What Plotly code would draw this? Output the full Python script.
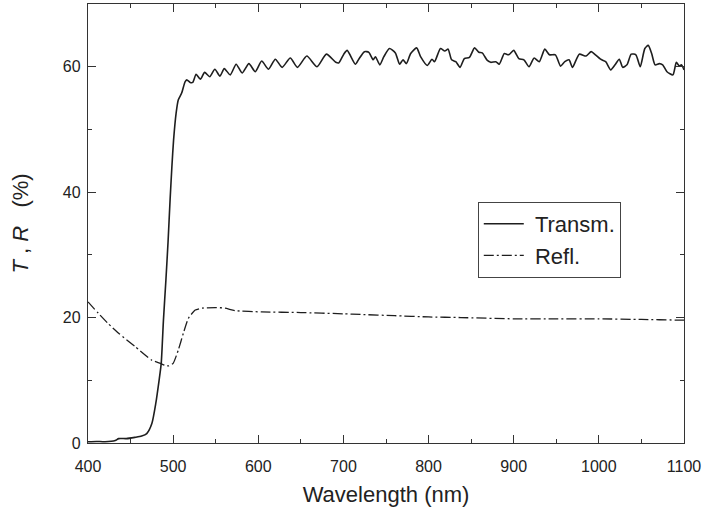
import plotly.graph_objects as go

# Transmission spectrum (wavelength in nm, T in %)
trans_wl = [400, 410, 420, 432, 436, 445, 455, 463, 469, 475, 479.6, 483.5, 486, 488.6,
            491.5, 494, 496.5, 498.5, 500.5, 503.5, 506, 510, 514, 516, 520,
            523, 527, 532, 537, 543, 549, 555, 560, 567, 574, 581, 589, 596.5, 604,
            612, 620, 628, 637.6, 646, 657, 669, 680, 691, 694.5, 700.4, 704.4, 714,
            718, 724.7, 729.8, 735, 737.6, 742.7, 747.5, 754, 761, 766, 770, 774, 779,
            786, 790.6, 798.4, 804, 807, 814, 819, 823, 827, 832, 837, 842, 848, 854,
            859, 863, 869, 873, 879, 883, 889, 894, 900, 906, 912, 918, 924, 930, 936.5,
            942, 949, 955, 960, 965, 969, 977, 985, 991, 996, 1002, 1008, 1014, 1019,
            1024, 1028, 1033, 1038, 1043.5, 1048.6, 1054, 1058, 1062, 1066, 1071, 1075,
            1080, 1087, 1091, 1094.5, 1097, 1100]
trans_val = [0.2, 0.25, 0.2, 0.4, 0.7, 0.7, 0.9, 1.1, 1.5, 3.1, 6.3, 10.0, 12.7, 19.6,
             26.0, 32.0, 39.0, 44.0, 48.3, 52.6, 54.7, 55.8, 57.6, 57.9, 57.5,
             57.5, 58.8, 58.0, 59.1, 58.4, 59.6, 58.5, 59.7, 58.7, 60.4, 59.0, 60.5, 59.2, 60.9,
             59.6, 61.2, 59.9, 61.4, 59.9, 61.7, 60.0, 62.0, 60.7, 60.6, 62.0, 62.6, 60.4,
             61.2, 62.4, 62.3, 61.1, 61.6, 60.3, 61.6, 62.9, 62.2, 60.4, 61.1, 60.5, 62.1,
             63.0, 61.6, 60.2, 61.2, 60.8, 62.9, 62.5, 62.8, 61.1, 60.8, 59.9, 61.3, 61.5, 63.0,
             62.3, 62.2, 61.0, 60.7, 60.8, 60.4, 62.1, 61.9, 62.6, 61.3, 61.1, 60.0, 61.4, 60.8, 62.8,
             61.9, 61.9, 60.1, 60.8, 61.1, 59.9, 62.0, 61.7, 62.4, 61.9, 61.2, 60.8, 59.5, 60.3,
             61.2, 59.9, 60.3, 62.0, 61.9, 60.0, 62.9, 63.4, 62.1, 60.3, 60.5, 60.3,
             59.2, 58.7, 60.7, 60.1, 60.3, 59.5]

# Reflection spectrum (wavelength in nm, R in %)
refl_wl = [400, 412, 424, 436, 455, 475, 485, 490, 495, 500, 506, 512, 518, 526, 534,
           550, 561, 573, 604, 650, 700, 720, 760, 800, 838, 900, 950, 1000, 1050, 1093, 1100]
refl_val = [22.5, 20.7, 19.0, 17.5, 15.4, 13.2, 12.7, 12.4, 12.3, 12.7, 14.8, 17.5, 19.9, 21.2, 21.5,
            21.6, 21.5, 21.1, 20.9, 20.8, 20.6, 20.5, 20.3, 20.1, 20.0, 19.8, 19.8, 19.8, 19.7, 19.6, 19.6]

x_ticks = [400, 500, 600, 700, 800, 900, 1000, 1100]
y_ticks = [0, 20, 40, 60]

FONT = "Arial, Liberation Sans, sans-serif"
INK = "#1e1e1e"
AXIS = "#333333"
TEXT = "#222222"

fig = go.Figure()
fig.add_trace(go.Scatter(
    x=trans_wl, y=trans_val, mode="lines", name="&nbsp;Transm.",
    line=dict(color=INK, width=1.6, shape="spline", smoothing=0.6),
))
fig.add_trace(go.Scatter(
    x=refl_wl, y=refl_val, mode="lines", name="&nbsp;Refl.",
    line=dict(color=INK, width=1.3, dash="10px,3px,2px,3px", shape="spline", smoothing=0.5),
))

axis_common = dict(
    showline=True, linecolor=AXIS, linewidth=1.4, mirror="ticks",
    ticks="inside", ticklen=8, tickwidth=1.2, tickcolor=AXIS,
    showgrid=False, zeroline=False,
    tickfont=dict(family=FONT, size=16, color=TEXT),
)

fig.update_xaxes(
    range=[400, 1100], tickvals=x_ticks, ticklabelstandoff=9,
    minor=dict(dtick=50, tick0=400, ticks="inside", ticklen=4, tickwidth=1.2, tickcolor=AXIS),
    title=dict(text="Wavelength (nm)", font=dict(family=FONT, size=22, color=TEXT), standoff=12),
    **axis_common,
)
fig.update_yaxes(
    range=[0, 70], tickvals=y_ticks, ticklabelstandoff=3,
    minor=dict(dtick=10, tick0=0, ticks="inside", ticklen=4, tickwidth=1.2, tickcolor=AXIS),
    title=dict(text="<i>T</i> , <i>R</i> &nbsp;&nbsp;(%)", font=dict(family=FONT, size=22, color=TEXT), standoff=28),
    **axis_common,
)

fig.update_layout(
    width=704, height=514,
    margin=dict(l=88, r=20, t=4, b=71),
    plot_bgcolor="white", paper_bgcolor="white",
    showlegend=True,
    legend=dict(
        x=0.654, y=0.549, xanchor="left", yanchor="top",
        bordercolor="#444444", borderwidth=1, bgcolor="white",
        font=dict(family=FONT, size=22, color=TEXT),
        tracegroupgap=0, itemwidth=40,
    ),
)

fig.write_html("out.html")
